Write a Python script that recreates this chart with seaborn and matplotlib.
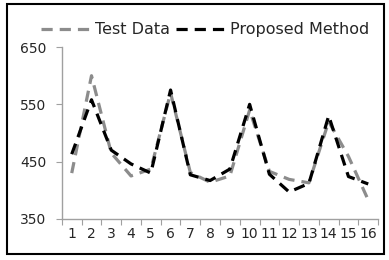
import numpy as np
import pandas as pd
import seaborn as sns
import matplotlib.pyplot as plt
from matplotlib.patches import Rectangle

periods = list(range(1, 17))
test_data = [430, 600, 465, 425, 437, 570, 431, 414, 425, 540, 433, 419, 413, 520, 459, 383]
proposed = [463, 558, 470, 446, 430, 575, 427, 417, 437, 550, 428, 397, 412, 530, 424, 411]
series_names = ['Test Data', 'Proposed Method']
series_colors = ['#8c8c8c', '#000000']
y_ticks = [350, 450, 550, 650]

df = pd.DataFrame({
    'period': periods * 2,
    'value': test_data + proposed,
    'series': [series_names[0]] * 16 + [series_names[1]] * 16,
})

sns.set_style('white')
plt.rcParams['font.family'] = ['DejaVu Sans']

fig = plt.figure(figsize=(3.89, 2.6), dpi=100)
ax = fig.add_axes([0.159, 0.158, 0.813, 0.661])

sns.lineplot(data=df, x='period', y='value', hue='series', style='series',
             palette=dict(zip(series_names, series_colors)),
             dashes={n: (3.5, 2.2) for n in series_names},
             linewidth=2.3, ax=ax)

ax.set_xlim(0.5, 16.5)
ax.set_ylim(350, 650)
ax.set_yticks(y_ticks)
ax.set_xticks(np.arange(0.5, 17, 1))
ax.set_xticklabels([])
ax.set_xticks(periods, minor=True)
ax.set_xticklabels([str(p) for p in periods], minor=True)
ax.tick_params(axis='x', which='major', length=4, color='#a0a0a0', direction='out', bottom=True)
ax.tick_params(axis='x', which='minor', length=0, pad=6, labelsize=10)
ax.tick_params(axis='y', length=4, color='#a0a0a0', direction='out', left=True, labelsize=10, pad=7)
ax.set_xlabel('')
ax.set_ylabel('')
for side in ['top', 'right']:
    ax.spines[side].set_visible(False)
for side in ['left', 'bottom']:
    ax.spines[side].set_color('#a0a0a0')
    ax.spines[side].set_linewidth(1)

handles, labels = ax.get_legend_handles_labels()
ax.legend(handles, labels, loc='center', bbox_to_anchor=(0.527, 0.885),
          bbox_transform=fig.transFigure, ncol=2, frameon=False,
          handlelength=3.3, handletextpad=0.1, columnspacing=0.35, fontsize=11.5)

fig.patches.append(Rectangle((0.018, 0.023), 0.969, 0.962, transform=fig.transFigure,
                             fill=False, edgecolor='black', linewidth=1.5))

plt.savefig('out.png', dpi=100)
